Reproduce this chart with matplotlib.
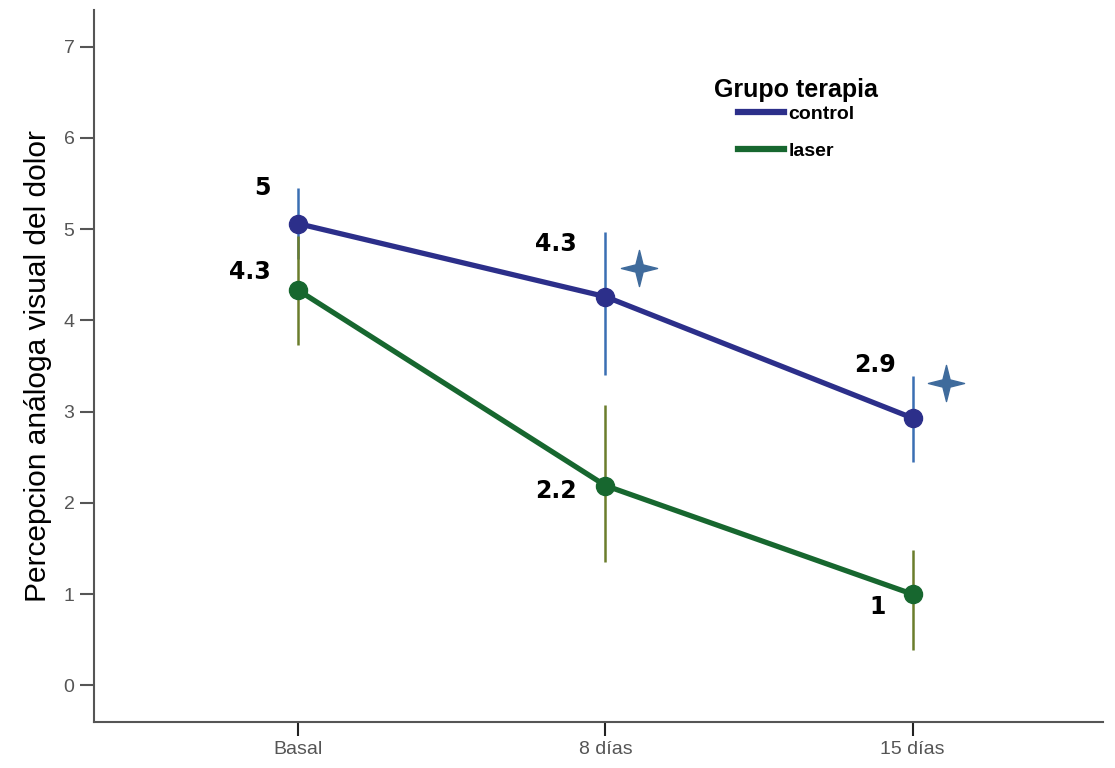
import matplotlib
matplotlib.use("Agg")
import matplotlib.pyplot as plt
from matplotlib.path import Path

# datos
momentos = ["Basal", "8 días", "15 días"]
control = [5.06, 4.26, 2.93]
control_lo = [4.67, 3.40, 2.45]
control_hi = [5.45, 4.97, 3.39]
laser = [4.33, 2.19, 1.00]
laser_lo = [3.73, 1.35, 0.39]
laser_hi = [4.93, 3.07, 1.48]
etq_control = ["5", "4.3", "2.9"]
etq_laser = ["4.3", "2.2", "1"]
# diferencias significativas (estrellas)
sig_x = [1.11, 2.11]
sig_y = [4.57, 3.31]

plt.rcParams['font.family'] = ['Liberation Sans', 'DejaVu Sans']

c_ctrl = '#2c2f8a'
c_las = '#17672f'
c_err_ctrl = '#3a6fb3'
c_err_las = '#6b7d2c'
c_star = '#3f6b9c'
gris = '#555555'

fig = plt.figure(figsize=(11.15, 7.68), dpi=100)
ax = fig.add_axes([0.0843, 0.0599, 0.905, 0.927])

x = list(range(len(momentos)))

ax.vlines(x, control_lo, control_hi, color=c_err_ctrl, lw=1.8, zorder=2)
ax.vlines(x, laser_lo, laser_hi, color=c_err_las, lw=1.8, zorder=2)

ax.plot(x, laser, color=c_las, lw=3.8, marker='o', ms=13, zorder=3, label='laser')
ax.plot(x, control, color=c_ctrl, lw=3.8, marker='o', ms=13, zorder=3, label='control')

# estrella de 4 puntas
s = 0.2
star = Path([(0, 1), (s, s), (1, 0), (s, -s), (0, -1), (-s, -s), (-1, 0), (-s, s), (0, 1)],
            [Path.MOVETO] + [Path.LINETO] * 7 + [Path.CLOSEPOLY])
ax.plot(sig_x, sig_y, ls='none', marker=star, ms=26, color=c_star, zorder=4)

# etiquetas de valores (desplazamiento en puntos)
off_ctrl = [(-26, 26), (-36, 38), (-27, 38)]
off_las = [(-35, 13), (-36, -4), (-25, -9)]
for i in x:
    ax.annotate(etq_control[i], (i, control[i]), xytext=off_ctrl[i], textcoords='offset points',
                ha='center', va='center', fontsize=17, fontweight='bold', family='DejaVu Sans')
    ax.annotate(etq_laser[i], (i, laser[i]), xytext=off_las[i], textcoords='offset points',
                ha='center', va='center', fontsize=17, fontweight='bold', family='DejaVu Sans')

ax.set_xlim(-0.665, 2.62)
ax.set_ylim(-0.4, 7.4)
ax.set_xticks(x)
ax.set_xticklabels(momentos)
ax.set_yticks(range(0, 8))
ax.tick_params(axis='both', colors=gris, labelsize=14, length=10, width=1.5, pad=4)
ax.tick_params(axis='x', colors='#222222', labelcolor=gris, labelsize=14)
for sp in ['top', 'right']:
    ax.spines[sp].set_visible(False)
for sp in ['left', 'bottom']:
    ax.spines[sp].set_color(gris)
    ax.spines[sp].set_linewidth(1.5)

ax.set_ylabel("Percepcion análoga visual del dolor", fontsize=21.5, labelpad=8)

h, l = ax.get_legend_handles_labels()
leg = ax.legend(h[::-1], l[::-1], title="Grupo terapia", frameon=False,
                loc='upper left', bbox_to_anchor=(0.605, 0.918),
                prop={'size': 14, 'weight': 'bold'}, handlelength=2.4,
                handletextpad=0.2, labelspacing=1.0, borderpad=0)
leg.get_title().set_fontsize(18)
leg.get_title().set_fontweight('bold')
leg._legend_box.sep = 2
for ln in leg.get_lines():
    ln.set_marker('')
    ln.set_linewidth(4.5)

fig.savefig("out.png", dpi=100)
